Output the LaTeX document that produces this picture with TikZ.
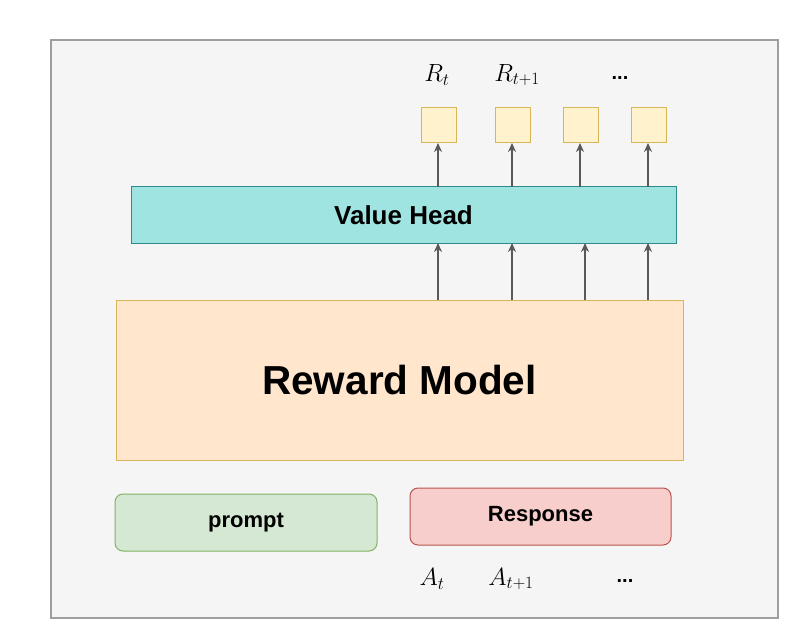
\documentclass[tikz,border=0pt]{standalone}
\usepackage{fontspec}
\setsansfont{Liberation Sans}
\usetikzlibrary{arrows.meta}
\definecolor{bgc}{HTML}{F5F5F5}
\definecolor{framec}{HTML}{9E9E9E}
\definecolor{vhfill}{HTML}{A0E4E2}
\definecolor{vhdraw}{HTML}{2E8B8B}
\definecolor{rmfill}{HTML}{FFE6CC}
\definecolor{rmdraw}{HTML}{D6B656}
\definecolor{ybfill}{HTML}{FFF2CC}
\definecolor{ybdraw}{HTML}{D6B656}
\definecolor{gfill}{HTML}{D5E8D4}
\definecolor{gdraw}{HTML}{82B366}
\definecolor{rfill}{HTML}{F8CECC}
\definecolor{rdraw}{HTML}{B85450}
\tikzset{
  box/.style={draw, line width=1pt, inner sep=0pt, font=\sffamily\bfseries},
  ybox/.style={box, fill=ybfill, draw=ybdraw, minimum width=35pt, minimum height=35pt},
  arr/.style={draw=black!65, line width=1.5pt, -{Stealth[length=9pt,width=8pt]}},
  mlab/.style={font=\fontsize{27}{31}\selectfont, inner sep=0pt},
  dots/.style={font=\sffamily\bfseries\fontsize{20}{24}\selectfont, inner sep=0pt}
}
\begin{document}
\begin{tikzpicture}[x=1pt,y=-1pt]
\useasboundingbox (0,0) rectangle (802,644);
\fill[white] (0,0) rectangle (802,644);
\draw[fill=bgc, draw=framec, line width=1.5pt] (51,40) rectangle (778,618);
% Value head
\node[box, fill=vhfill, draw=vhdraw, minimum width=545pt, minimum height=56pt,
      font=\sffamily\bfseries\fontsize{26}{30}\selectfont] (vh) at (403.5,215) {Value Head};
% Reward model
\node[box, fill=rmfill, draw=rmdraw, minimum width=567pt, minimum height=160pt,
      font=\sffamily\bfseries\fontsize{40.5}{48}\selectfont] (rm) at (399.5,380) {Reward Model};
% small boxes
\node[ybox] (b1) at (438.5,125) {};
\node[ybox] (b2) at (513,125) {};
\node[ybox] (b3) at (581,125) {};
\node[ybox] (b4) at (649,125) {};
% arrows vh -> boxes
\foreach \i/\x in {1/438,2/512,3/580,4/648}{
  \coordinate (vt\i) at (\x,187);
  \draw[arr] (vt\i) -- (b\i.south -| vt\i);
}
% arrows rm -> vh
\foreach \i/\x in {1/438,2/512,3/585,4/648}{
  \coordinate (rt\i) at (\x,300);
  \coordinate (vb\i) at (\x,243);
  \draw[arr] (rt\i) -- (vb\i);
}
% labels
\node[mlab] (rt) at (437,75) {$R_t$};
\node[mlab] (rt1) at (517,75) {$R_{t+1}$};
\node[dots] (rd) at (620,78) {...};
% prompt / response
\node[box, rounded corners=8pt, fill=gfill, draw=gdraw, minimum width=262pt, minimum height=57pt,
      font=\sffamily\bfseries\fontsize{22}{26}\selectfont] (pr) at (246,522.5) {prompt};
\node[box, rounded corners=8pt, fill=rfill, draw=rdraw, minimum width=261pt, minimum height=57pt,
      font=\sffamily\bfseries\fontsize{22}{26}\selectfont] (rs) at (540.5,516.5) {Response};
\node[mlab] (at) at (432,579) {$A_t$};
\node[mlab] (at1) at (511,579) {$A_{t+1}$};
\node[dots] (ad) at (625,581) {...};
\end{tikzpicture}
\end{document}
